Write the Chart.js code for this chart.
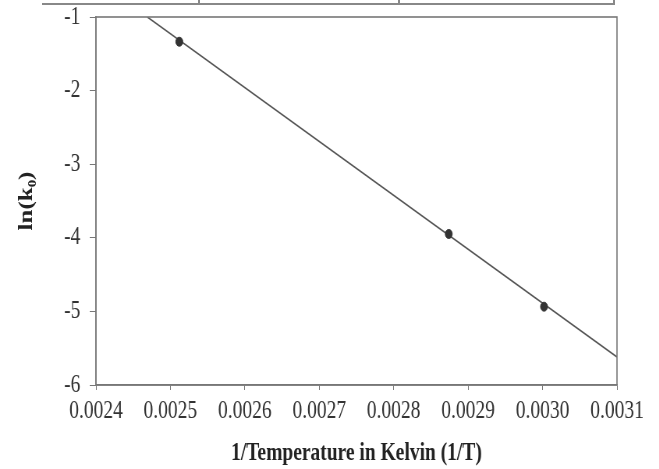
<!DOCTYPE html>
<html>
<head>
<meta charset="utf-8">
<script src="https://cdn.jsdelivr.net/npm/chart.js@4"></script>
<style>
  html, body { margin: 0; padding: 0; background: #fff; overflow: hidden; }
  #page { position: relative; width: 659px; height: 469px; overflow: hidden; }
  /* the scanned figure is narrow type, so the canvas is drawn wide and squeezed */
  #wrap { position: absolute; left: 0; top: 0; width: 845px; height: 469px;
          transform: scaleX(0.78); transform-origin: 0 0; }
  #tbl { position: absolute; left: 42px; top: -19px; width: 571px; height: 22px;
         border-bottom: 2px solid #888; border-right: 2px solid #888; }
  #tbl div { position: absolute; top: 0; height: 22px; border-left: 2px solid #888; }
</style>
</head>
<body>
<div id="page">
  <div id="wrap"><canvas id="grafico" width="845" height="469"></canvas></div>
  <div id="tbl"><div style="left:156px"></div><div style="left:356px"></div></div>
</div>
<script>
// measured points
const invT = [0.002512, 0.002874, 0.003002];
const lnK0 = [-1.336, -3.948, -4.936];

// fitted line, ends where it leaves the plot box
const fitX = [0.002469, 0.0031];
const fitY = [-1, -5.62];

const xTicks = [0.0024, 0.0025, 0.0026, 0.0027, 0.0028, 0.0029, 0.0030, 0.0031];
const yTicks = [-6, -5, -4, -3, -2, -1];

const serif = "'Liberation Serif', 'Times New Roman', serif";

// box around the plot area
const boxPlugin = {
    id: 'box',
    afterDraw(chart) {
        const a = chart.chartArea;
        const ctx = chart.ctx;
        ctx.save();
        ctx.strokeStyle = '#777';
        ctx.lineWidth = 1.6;
        ctx.strokeRect(a.left, a.top, a.right - a.left, a.bottom - a.top);
        ctx.restore();
    }
};

function criarGrafico() {
    const ctx = document.getElementById('grafico');
    return new Chart(ctx, {
        type: 'scatter',
        data: {
            datasets: [{
                label: 'ln(k0)',
                data: invT.map((x, i) => ({ x: x, y: lnK0[i] })),
                backgroundColor: '#333',
                borderColor: '#333',
                pointRadius: 4.5,
                order: 0
            }, {
                label: 'fit',
                type: 'line',
                data: fitX.map((x, i) => ({ x: x, y: fitY[i] })),
                borderColor: '#555',
                borderWidth: 1.6,
                pointRadius: 0,
                fill: false,
                order: 1
            }]
        },
        options: {
            responsive: false,
            animation: false,
            layout: { padding: { top: 17, right: 54, left: 0, bottom: 0 } },
            plugins: {
                legend: { display: false },
                tooltip: { enabled: false }
            },
            scales: {
                x: {
                    type: 'linear',
                    min: 0.0024,
                    max: 0.0031,
                    afterBuildTicks: (axis) => { axis.ticks = xTicks.map(v => ({ value: v })); },
                    afterFit: (axis) => { axis.height = 84; },
                    border: { display: true, color: '#777', width: 1.6 },
                    grid: { drawOnChartArea: false, drawTicks: true, tickLength: 5, color: '#777' },
                    ticks: {
                        color: '#333',
                        padding: 6,
                        maxRotation: 0,
                        autoSkip: false,
                        font: { family: serif, size: 25 },
                        callback: (v) => v.toFixed(4)
                    },
                    title: {
                        display: true,
                        text: '1/Temperature in Kelvin (1/T)',
                        color: '#222',
                        padding: { top: 0, bottom: 0 },
                        font: { family: serif, size: 25, weight: 'bold' }
                    }
                },
                y: {
                    min: -6,
                    max: -1,
                    afterBuildTicks: (axis) => { axis.ticks = yTicks.map(v => ({ value: v })); },
                    afterFit: (axis) => {
                        axis.width = 123;
                        axis.paddingTop = 0;
                        axis.paddingBottom = 0;
                    },
                    border: { display: true, color: '#777', width: 1.6 },
                    grid: { drawOnChartArea: false, drawTicks: true, tickLength: 8, color: '#777' },
                    ticks: {
                        color: '#333',
                        padding: 12,
                        font: { family: serif, size: 25 }
                    },
                    title: {
                        display: true,
                        text: 'ln(k\u2080)',
                        color: '#222',
                        padding: { top: 20, bottom: 0 },
                        font: { family: serif, size: 25, weight: 'bold' }
                    }
                }
            }
        },
        plugins: [boxPlugin]
    });
}

criarGrafico();
</script>
</body>
</html>
